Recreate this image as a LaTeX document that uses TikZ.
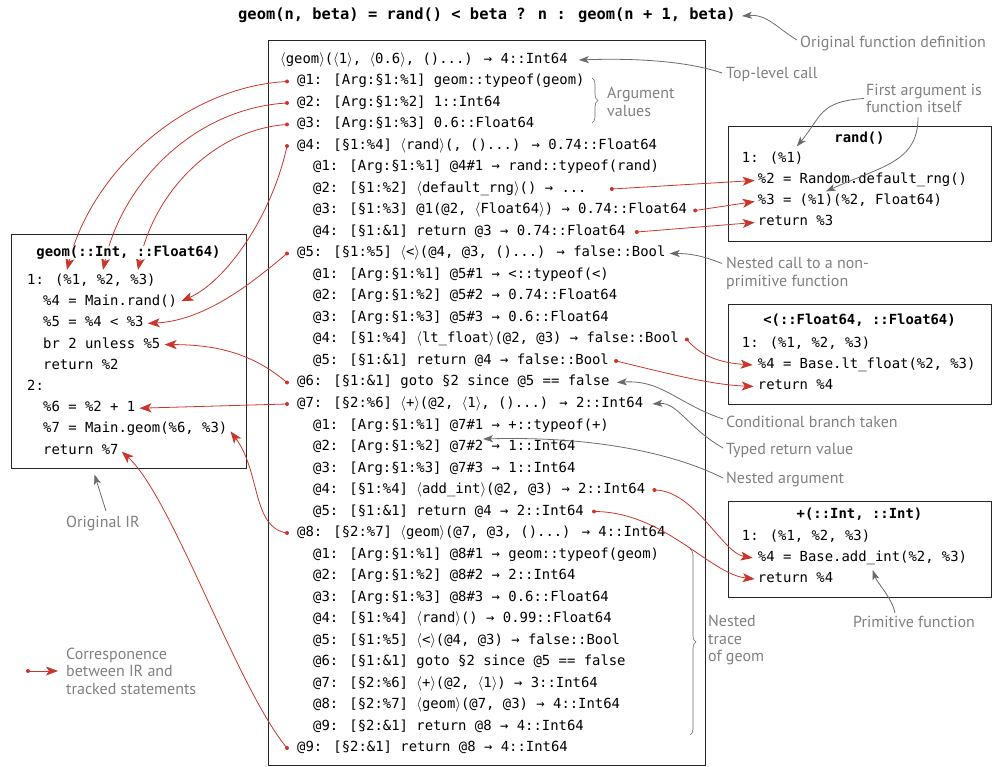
\documentclass[tikz,border=0pt]{standalone}
\usepackage{fontspec}
\usetikzlibrary{arrows.meta,decorations.pathreplacing,calc}
\newfontfamily\codefont{DejaVu Sans Mono}
\newfontfamily\annfont{PT Sans}
\definecolor{corr}{HTML}{C9372C}
\definecolor{anngray}{HTML}{808080}
\definecolor{arrgray}{HTML}{6B6B6B}
\newcommand{\lab}{\ensuremath{\langle}}
\newcommand{\rab}{\ensuremath{\rangle}}
\begin{document}
\begin{tikzpicture}[x=1pt,y=-1pt,
  code/.style={font=\codefont\fontsize{13.9}{16}\selectfont, anchor=west, inner sep=0pt, text height=10pt, text depth=3pt},
  title/.style={font=\codefont\bfseries\fontsize{13.9}{16}\selectfont, anchor=center, inner sep=0pt, text height=10pt, text depth=3pt},
  formula/.style={font=\codefont\bfseries\fontsize{15.4}{18}\selectfont, anchor=center, inner sep=0pt},
  ann/.style={font=\annfont\fontsize{16}{17.5}\selectfont, text=anngray, anchor=west, inner sep=0pt, align=left},
  box/.style={draw=black!85, line width=1pt, inner sep=0pt},
  corrarr/.style={draw=corr, line width=0.8pt, -{Stealth[length=12pt,width=9pt,inset=3pt]}},
  grayarr/.style={draw=arrgray, line width=0.8pt, -{Stealth[length=10pt,width=7pt,inset=2.5pt]}},
  gbrace/.style={draw=arrgray, line width=0.6pt, decorate, decoration={brace, amplitude=6pt}}
]
\useasboundingbox (0,0) rectangle (994,767);

% formula
\node[formula] (formula) at (487,15) {geom(n, beta) = rand() < beta ? n : geom(n + 1, beta)};

% boxes
\node[box, minimum width=437pt, minimum height=724pt] (mainbox) at (486.5,403) {};
\node[box, minimum width=235pt, minimum height=233pt] (gbox) at (128.5,351.5) {};
\node[box, minimum width=263pt, minimum height=115pt] (rbox) at (859.5,184.5) {};
\node[box, minimum width=263pt, minimum height=100pt] (lbox) at (859.5,355) {};
\node[box, minimum width=263pt, minimum height=96pt] (abox) at (859.5,549) {};

% main trace
\node[code] (t0) at (280,60) {\lab geom\rab(\lab 1\rab, \lab 0.6\rab, ()...) → 4::Int64};
\node[code] (t1) at (297,81.5) {@1: [Arg:§1:\%1] geom::typeof(geom)};
\node[code] (t2) at (297,103) {@2: [Arg:§1:\%2] 1::Int64};
\node[code] (t3) at (297,124.5) {@3: [Arg:§1:\%3] 0.6::Float64};
\node[code] (t4) at (297,146) {@4: [§1:\%4] \lab rand\rab(, ()...) → 0.74::Float64};
\node[code] (t5) at (313,167.5) {@1: [Arg:§1:\%1] @4\#1 → rand::typeof(rand)};
\node[code] (t6) at (313,189) {@2: [§1:\%2] \lab default\_rng\rab() → ...};
\node[code] (t7) at (313,210.5) {@3: [§1:\%3] @1(@2, \lab Float64\rab) → 0.74::Float64};
\node[code] (t8) at (313,232) {@4: [§1:\&1] return @3 → 0.74::Float64};
\node[code] (t9) at (297,253.5) {@5: [§1:\%5] \lab<\rab(@4, @3, ()...) → false::Bool};
\node[code] (t10) at (313,275) {@1: [Arg:§1:\%1] @5\#1 → <::typeof(<)};
\node[code] (t11) at (313,296.5) {@2: [Arg:§1:\%2] @5\#2 → 0.74::Float64};
\node[code] (t12) at (313,318) {@3: [Arg:§1:\%3] @5\#3 → 0.6::Float64};
\node[code] (t13) at (313,339.5) {@4: [§1:\%4] \lab lt\_float\rab(@2, @3) → false::Bool};
\node[code] (t14) at (313,361) {@5: [§1:\&1] return @4 → false::Bool};
\node[code] (t15) at (297,382.5) {@6: [§1:\&1] goto §2 since @5 == false};
\node[code] (t16) at (297,404) {@7: [§2:\%6] \lab+\rab(@2, \lab 1\rab, ()...) → 2::Int64};
\node[code] (t17) at (313,425.5) {@1: [Arg:§1:\%1] @7\#1 → +::typeof(+)};
\node[code] (t18) at (313,447) {@2: [Arg:§1:\%2] @7\#2 → 1::Int64};
\node[code] (t19) at (313,468.5) {@3: [Arg:§1:\%3] @7\#3 → 1::Int64};
\node[code] (t20) at (313,490) {@4: [§1:\%4] \lab add\_int\rab(@2, @3) → 2::Int64};
\node[code] (t21) at (313,511.5) {@5: [§1:\&1] return @4 → 2::Int64};
\node[code] (t22) at (297,533) {@8: [§2:\%7] \lab geom\rab(@7, @3, ()...) → 4::Int64};
\node[code] (t23) at (313,554.5) {@1: [Arg:§1:\%1] @8\#1 → geom::typeof(geom)};
\node[code] (t24) at (313,576) {@2: [Arg:§1:\%2] @8\#2 → 2::Int64};
\node[code] (t25) at (313,597.5) {@3: [Arg:§1:\%3] @8\#3 → 0.6::Float64};
\node[code] (t26) at (313,619) {@4: [§1:\%4] \lab rand\rab() → 0.99::Float64};
\node[code] (t27) at (313,640.5) {@5: [§1:\%5] \lab<\rab(@4, @3) → false::Bool};
\node[code] (t28) at (313,662) {@6: [§1:\&1] goto §2 since @5 == false};
\node[code] (t29) at (313,683.5) {@7: [§2:\%6] \lab+\rab(@2, \lab 1\rab) → 3::Int64};
\node[code] (t30) at (313,705) {@8: [§2:\%7] \lab geom\rab(@7, @3) → 4::Int64};
\node[code] (t31) at (313,726.5) {@9: [§2:\&1] return @8 → 4::Int64};
\node[code] (t32) at (297,748) {@9: [§2:\&1] return @8 → 4::Int64};

% original IR
\node[code] (g1) at (27,281) {1: (\%1, \%2, \%3)};
\node[code] (g2) at (43,302.2) {\%4 = Main.rand()};
\node[code] (g3) at (43,323.4) {\%5 = \%4 < \%3};
\node[code] (g4) at (43,344.6) {br 2 unless \%5};
\node[code] (g5) at (43,365.8) {return \%2};
\node[code] (g6) at (27,387) {2:};
\node[code] (g7) at (43,408.2) {\%6 = \%2 + 1};
\node[code] (g8) at (43,429.4) {\%7 = Main.geom(\%6, \%3)};
\node[code] (g9) at (43,450.6) {return \%7};

% rand box
\node[title] (r0) at (859.5,139) {rand()};
\node[code] (r1) at (741.7,159.5) {1: (\%1)};
\node[code] (r2) at (757.7,180.5) {\%2 = Random.default\_rng()};
\node[code] (r3) at (757.7,201.5) {\%3 = (\%1)(\%2, Float64)};
\node[code] (r4) at (757.7,222.5) {return \%3};

% lt box
\node[title] (l0) at (859.5,321) {<(::Float64, ::Float64)};
\node[code] (l1) at (741.7,344) {1: (\%1, \%2, \%3)};
\node[code] (l2) at (757.7,365) {\%4 = Base.lt\_float(\%2, \%3)};
\node[code] (l3) at (757.7,386.5) {return \%4};

% add box
\node[title] (a0) at (859.5,515) {+(::Int, ::Int)};
\node[code] (a1) at (741.7,537) {1: (\%1, \%2, \%3)};
\node[code] (a2) at (757.7,558) {\%4 = Base.add\_int(\%2, \%3)};
\node[code] (a3) at (757.7,579) {return \%4};

% annotations
\node[ann] (orig) at (800,44) {Original function definition};
\node[ann] (top) at (726,75) {Top-level call};
\node[ann] (argv) at (607,102) {Argument\\values};
\node[ann] (first) at (866,98.5) {First argument is\\function itself};
\node[ann] (nestcall) at (726,273.5) {Nested call to a non-\\primitive function};
\node[ann] (cond) at (726,422) {Conditional branch taken};
\node[ann] (typed) at (726,451) {Typed return value};
\node[ann] (nestarg) at (726,480) {Nested argument};
\node[ann] (prim) at (853,622) {Primitive function};
\node[ann] (ntrace) at (708,640.5) {Nested\\trace\\of geom};
\node[ann] (oir) at (66,523) {Original IR};
\node[ann] (legend) at (66,671) {Corresponence\\between IR and\\tracked statements};

% braces
\draw[gbrace] (592,78) -- (592,123);
\draw[gbrace] (690,549) -- (690,735);

% dots
\foreach \n in {t1,t2,t3,t4,t9,t15,t16,t22,t32}
  \coordinate (d\n) at ([shift={(-10,0)}]\n.west);
\coordinate (dt6) at ([shift={(25,0)}]t6.east);
\coordinate (dt7) at ([shift={(8,0)}]t7.east);
\coordinate (dt8) at ([shift={(11,0)}]t8.east);
\coordinate (dt13) at ([shift={(8,0)}]t13.east);
\coordinate (dt14) at ([shift={(7,0)}]t14.east);
\coordinate (dt20) at ([shift={(9,0)}]t20.east);
\coordinate (dt21) at ([shift={(10,0)}]t21.east);
\coordinate (dleg) at ([shift={(-38,0)}]legend.west);

% targets
\coordinate (e1) at ([shift={(40,-11)}]g1.west);
\coordinate (e2) at ([shift={(76,-11)}]g1.west);
\coordinate (e3) at ([shift={(111,-11)}]g1.west);
\coordinate (e4) at ([shift={(4,-1)}]g2.east);
\coordinate (e5) at ([shift={(4,0)}]g3.east);
\coordinate (e6) at ([shift={(4,0)}]g4.east);
\coordinate (e7) at ([shift={(4,0)}]g7.east);
\coordinate (e8) at ([shift={(3,2)}]g8.east);
\coordinate (e9) at ([shift={(3,1)}]g9.east);
\coordinate (er2) at ([shift={(-3,0)}]r2.west);
\coordinate (er3) at ([shift={(-3,0)}]r3.west);
\coordinate (er4) at ([shift={(-3,0)}]r4.west);
\coordinate (el2) at ([shift={(-5,0)}]l2.west);
\coordinate (el3) at ([shift={(-4,0)}]l3.west);
\coordinate (ea2) at ([shift={(-5,0)}]a2.west);
\coordinate (ea3) at ([shift={(-3,0)}]a3.west);
\coordinate (eleg) at ([shift={(-8,0)}]legend.west);

% red correspondence arrows
\draw[corrarr] (dt1) .. controls +(-100,5) and +(25,-100) .. (e1);
\draw[corrarr] (dt2) .. controls +(-90,5) and +(20,-90) .. (e2);
\draw[corrarr] (dt3) .. controls +(-75,5) and +(15,-75) .. (e3);
\draw[corrarr] (dt4) .. controls +(-15,70) and +(45,-20) .. (e4);
\draw[corrarr] (dt9) .. controls +(-30,25) and +(60,-3) .. (e5);
\draw[corrarr] (dt15) .. controls +(-30,-25) and +(60,0) .. (e6);
\draw[corrarr] (dt16) -- (e7);
\draw[corrarr] (dt22) .. controls +(-35,-5) and +(30,40) .. (e8);
\draw[corrarr] (dt32) .. controls +(-50,-60) and +(50,45) .. (e9);
\draw[corrarr] (dt6) -- (er2);
\draw[corrarr] (dt7) -- (er3);
\draw[corrarr] (dt8) -- (er4);
\draw[corrarr] (dt13) .. controls +(15,18) and +(-30,-2) .. (el2);
\draw[corrarr] (dt14) .. controls +(50,12) and +(-45,-2) .. (el3);
\draw[corrarr] (dt20) .. controls +(40,0) and +(-30,-5) .. (ea2);
\draw[corrarr] (dt21) .. controls +(70,0) and +(-45,-5) .. (ea3);
\draw[corrarr] (dleg) -- (eleg);
\foreach \n in {t1,t2,t3,t4,t9,t15,t16,t22,t32,t6,t7,t8,t13,t14,t20,t21}
  \fill[corr] (d\n) circle (2pt);
\fill[corr] (dleg) circle (2pt);

% left box title over arrows
\node[title, fill=white, inner xsep=2pt] (g0) at (128.5,253) {geom(::Int, ::Float64)};

% gray annotation arrows
\coordinate (ft) at ([shift={(6,1)}]formula.east);
\draw[grayarr] ([shift={(-3,-4)}]orig.west) .. controls +(-20,-12) and +(25,-2) .. (ft);
\coordinate (tt0) at ([shift={(11,0)}]t0.east);
\draw[grayarr] ([shift={(-4,-2)}]top.west) .. controls +(-35,-12) and +(55,-2) .. (tt0);
\coordinate (tt9) at ([shift={(4,0)}]t9.east);
\draw[grayarr] ([shift={(-4,-10)}]nestcall.west) .. controls +(-20,-8) and +(20,0) .. (tt9);
\coordinate (tt15) at ([shift={(7,0)}]t15.east);
\draw[grayarr] ([shift={(-3,-3)}]cond.west) .. controls +(-45,-15) and +(45,-3) .. (tt15);
\coordinate (tt16) at ([shift={(9,0)}]t16.east);
\draw[grayarr] ([shift={(-3,-3)}]typed.west) .. controls +(-35,-20) and +(25,-2) .. (tt16);
\coordinate (tt18) at ([shift={(170,-8)}]t18.west);
\draw[grayarr] ([shift={(-3,-2)}]nestarg.west) .. controls +(-50,-25) and +(110,-3) .. (tt18);
\coordinate (fr1) at ([shift={(55,-13)}]r1.west);
\draw[grayarr] ([shift={(-2,0)}]first.west) .. controls +(-45,3) and +(25,-30) .. (fr1);
\coordinate (fr3) at ([shift={(68,-10)}]r3.west);
\draw[grayarr] ([shift={(52,19)}]first.west) .. controls +(0,45) and +(55,-25) .. (fr3);
\coordinate (pa2) at ([shift={(115,12)}]a2.west);
\draw[grayarr] ([shift={(42,-9)}]prim.west) .. controls +(-3,-15) and +(4,12) .. (pa2);
\coordinate (girt) at ([shift={(-34,6)}]gbox.south);
\draw[grayarr] ([shift={(40,-12)}]oir.west) -- (girt);

\end{tikzpicture}
\end{document}
